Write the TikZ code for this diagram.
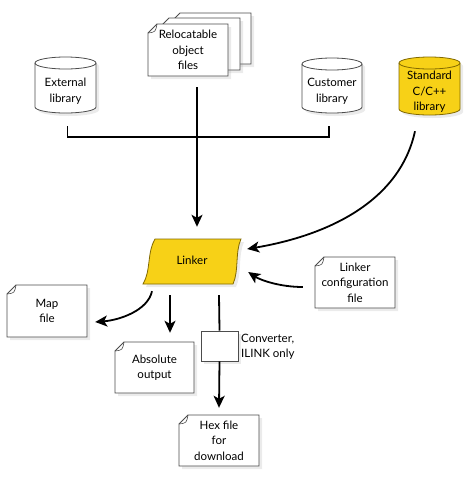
\documentclass[tikz,border=0pt]{standalone}
\usepackage{fontspec}
\setmainfont{Lato}
\usetikzlibrary{arrows.meta,calc,shadows}
\definecolor{ylw}{RGB}{247,209,23}
\definecolor{ylwd}{RGB}{130,105,0}
\definecolor{edge}{gray}{0.3}
\tikzset{
  wline/.style={draw=edge,line width=0.8pt},
  yline/.style={draw=ylwd,line width=0.8pt},
  shad/.style={drop shadow={opacity=0.16,shadow xshift=3pt,shadow yshift=-3pt}},
  txt/.style={inner sep=0pt,align=center,font=\fontsize{11.5}{15.5}\selectfont},
  conn/.style={line width=1.8pt},
  arr/.style={conn,-{Stealth[length=12pt,width=11pt,inset=3pt]}},
}
% name L T R B text
\newcommand\mydoc[6]{%
  \path[wline,fill=white,shad] ({#2},{-(#3)-9}) -- ({#2+9},{-(#3)}) -- ({#4},{-(#3)}) -- ({#4},{-(#5)}) -- ({#2},{-(#5)}) -- cycle;
  \draw[edge,line width=0.6pt] ({#2},{-(#3)-9}) .. controls ({#2+7.5},{-(#3)-8}) .. ({#2+9},{-(#3)});
  \node[txt,minimum width={(#4-#2)*1pt},minimum height={(#5-#3)*1pt}] (#1) at ({(#2+#4)/2},{-(#3+#5)/2}) {#6};
}
% name L T R B linestyle fill text
\newcommand\mycyl[8]{%
  \path[#6,fill=#7,shad] ({#2},{-(#3)-6}) -- ({#2},{-(#5)+6})
    arc[start angle=180,end angle=360,x radius={(#4-#2)/2*1pt},y radius=6pt]
    -- ({#4},{-(#3)-6})
    arc[start angle=0,end angle=180,x radius={(#4-#2)/2*1pt},y radius=6pt] -- cycle;
  \path[#6] ({#2},{-(#3)-6}) arc[start angle=180,end angle=360,x radius={(#4-#2)/2*1pt},y radius=6pt];
  \node[txt,minimum width={(#4-#2)*1pt},minimum height={(#5-#3-12)*1pt}] (#1) at ({(#2+#4)/2},{-(#3+12+#5)/2}) {#8};
}
\begin{document}
\begin{tikzpicture}[x=1pt,y=1pt]
\useasboundingbox (0,0) rectangle (465,-483);
% cylinders
\mycyl{ext}{35}{57}{96}{113}{wline}{white}{External\\library}
\mycyl{cust}{302}{58}{362}{113}{wline}{white}{Customer\\library}
\mycyl{std}{399}{57}{460}{115}{yline}{ylw}{Standard\\C/C++\\library}
% stack of object files
\path[wline,fill=white,shad] (171,-22) -- (180,-13) -- (251,-13) -- (251,-64) -- (171,-64) -- cycle;
\path[wline,fill=white,shad] (160,-27) -- (169,-18) -- (240,-18) -- (240,-70) -- (160,-70) -- cycle;
\mydoc{rel}{148}{24}{228}{76}{Relocatable\\object\\files}
% documents
\mydoc{cfg}{315}{257}{395}{308}{Linker\\configuration\\file}
\mydoc{map}{7}{285}{87}{337}{Map\\file}
\mydoc{abs}{115}{342}{194}{393}{Absolute\\output}
\mydoc{hex}{179}{415}{259}{466}{Hex file\\for\\download}
% linker
\path[yline,fill=ylw,shad] (155,-239) -- (241,-239) .. controls (235,-252) and (239,-271) .. (233,-284)
  -- (143,-284) .. controls (151,-271) and (147,-252) .. (155,-239) -- cycle;
\node[txt,minimum width=98pt,minimum height=45pt] (linker) at (192,-261.5) {\raisebox{3pt}{Linker}};
% converter
\node[draw=edge,line width=0.8pt,fill=white,shad,minimum width=37pt,minimum height=30pt,inner sep=0pt] (conv) at (219.5,-346) {};
\node[txt,align=left,anchor=west] (convlbl) at (241,-347) {Converter,\\ILINK only};
% bus
\draw[conn] ($(ext.south)+(2,-13)$) -- ++(0,-11) -| ($(cust.south)+(-3,-13)$);
\draw[arr] ($(rel.south)+(9,-11)$) -- ($(linker.north)+(5,12)$);
% arrows into linker
\draw[arr] ($(std.south)+(-14.5,-16)$) .. controls +(-15,-69) and +(83,14) .. ($(linker.east)+(6,12.5)$);
\draw[arr] ($(cfg.west)+(-12,-4.5)$) .. controls +(-23,0) and +(12,-8) .. ($(linker.east)+(7,-10.5)$);
% outputs
\draw[arr] ($(linker.south)+(-40,-7)$) .. controls +(-4,-19) and +(25,2) .. ($(map.east)+(8,-11)$);
\draw[arr] ($(linker.south)+(-22,-11)$) -- ($(abs.north)+(15.5,9)$);
\draw[conn] ($(linker.south)+(27,-11)$) -- (conv.north);
\draw[arr] (conv.south) -- ($(hex.north)+(0,7)$);
\end{tikzpicture}
\end{document}
